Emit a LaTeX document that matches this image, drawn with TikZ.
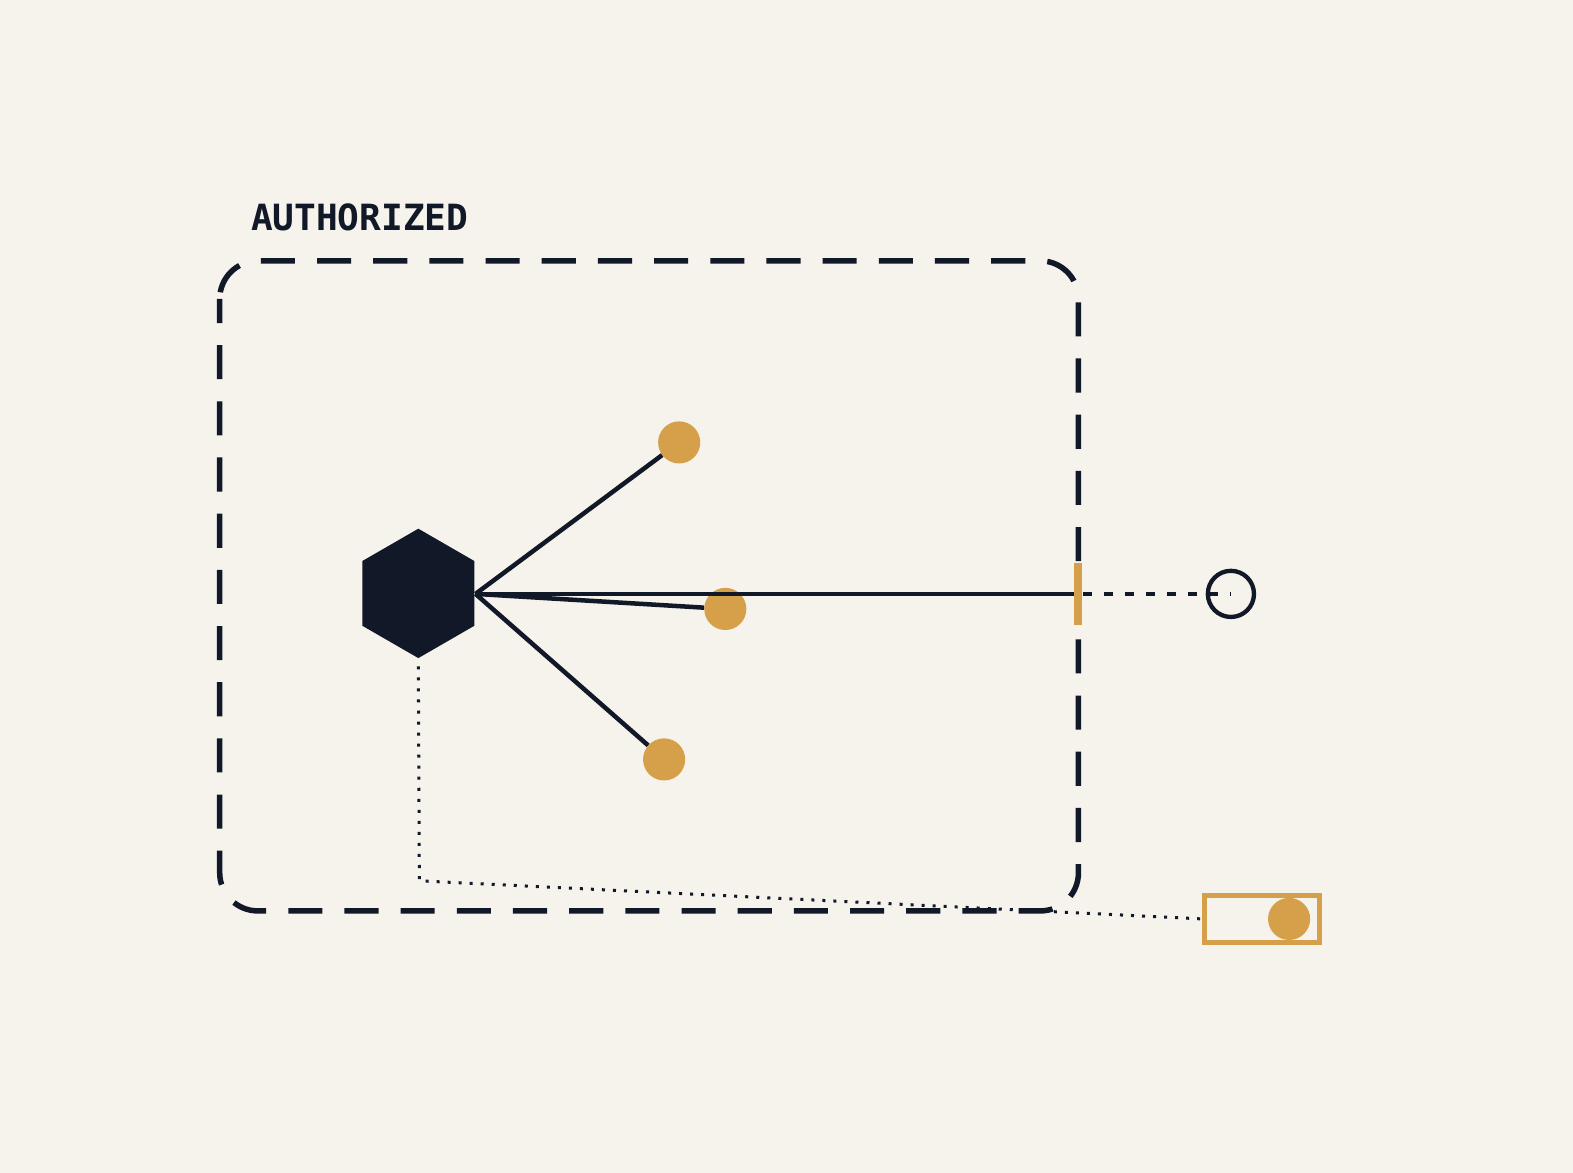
\documentclass[tikz,border=0pt]{standalone}
\usepackage{fontspec}
\newfontfamily\monob{DejaVu Sans Mono}
\usetikzlibrary{shapes.geometric}
\definecolor{bg}{HTML}{F6F3ED}
\definecolor{ink}{HTML}{111827}
\definecolor{gold}{HTML}{D6A04B}
\tikzset{
  edge/.style={draw=ink, line width=4.5bp},
  dotnode/.style={circle, fill=gold, minimum size=42bp, inner sep=0pt},
  dotted line/.style={draw=ink, line width=3bp, dash pattern=on 3bp off 8bp},
}
\begin{document}
\begin{tikzpicture}[x=1bp,y=-1bp]
\fill[bg] (0,0) rectangle (1568,1169);
\useasboundingbox (0,0) rectangle (1568,1169);
% boundary
\draw[ink, line width=5.5bp, dash pattern=on 34bp off 22bp, dash phase=10bp, rounded corners=38bp] (219,260) rectangle (1075,908);
\node[anchor=base west, inner sep=0pt, text=ink, font=\monob\bfseries\fontsize{36bp}{40bp}\selectfont] (lbl) at (250,230) {AUTHORIZED};
% hexagon
\node[regular polygon, regular polygon sides=6, shape border rotate=90, minimum size=129bp, inner sep=0pt, fill=ink] (hex) at (417,591.5) {};
\coordinate (hv) at (474,592);
\node[dotnode] (d1) at (677,441) {};
\node[dotnode] (d2) at (723,607) {};
\node[dotnode] (d3) at (662,757) {};
\coordinate (gate) at (1075,592);
\draw[edge] (hv) -- (d1);
\draw[edge] (hv) -- (d3);
\draw[edge] (hv) -- (gate);
\draw[edge] (hv) -- (d2);
\node[fill=gold, minimum width=8bp, minimum height=62bp, inner sep=0pt] (tick) at (1075,592) {};
\node[circle, draw=ink, line width=4.3bp, minimum size=46bp, inner sep=0pt] (ext) at (1227,592) {};
\draw[ink, line width=4bp, dash pattern=on 9bp off 12bp] (tick.east) -- (ext.center);
% external box
\node[draw=gold, line width=5bp, minimum width=114bp, minimum height=46bp, inner sep=0pt] (box) at (1258,916) {};
\node[dotnode] (d4) at (1285,916) {};
\coordinate (corner) at (418,878);
\draw[dotted line] (hex.south) ++(0,8) -- (corner) -- (box.west);
\end{tikzpicture}
\end{document}
